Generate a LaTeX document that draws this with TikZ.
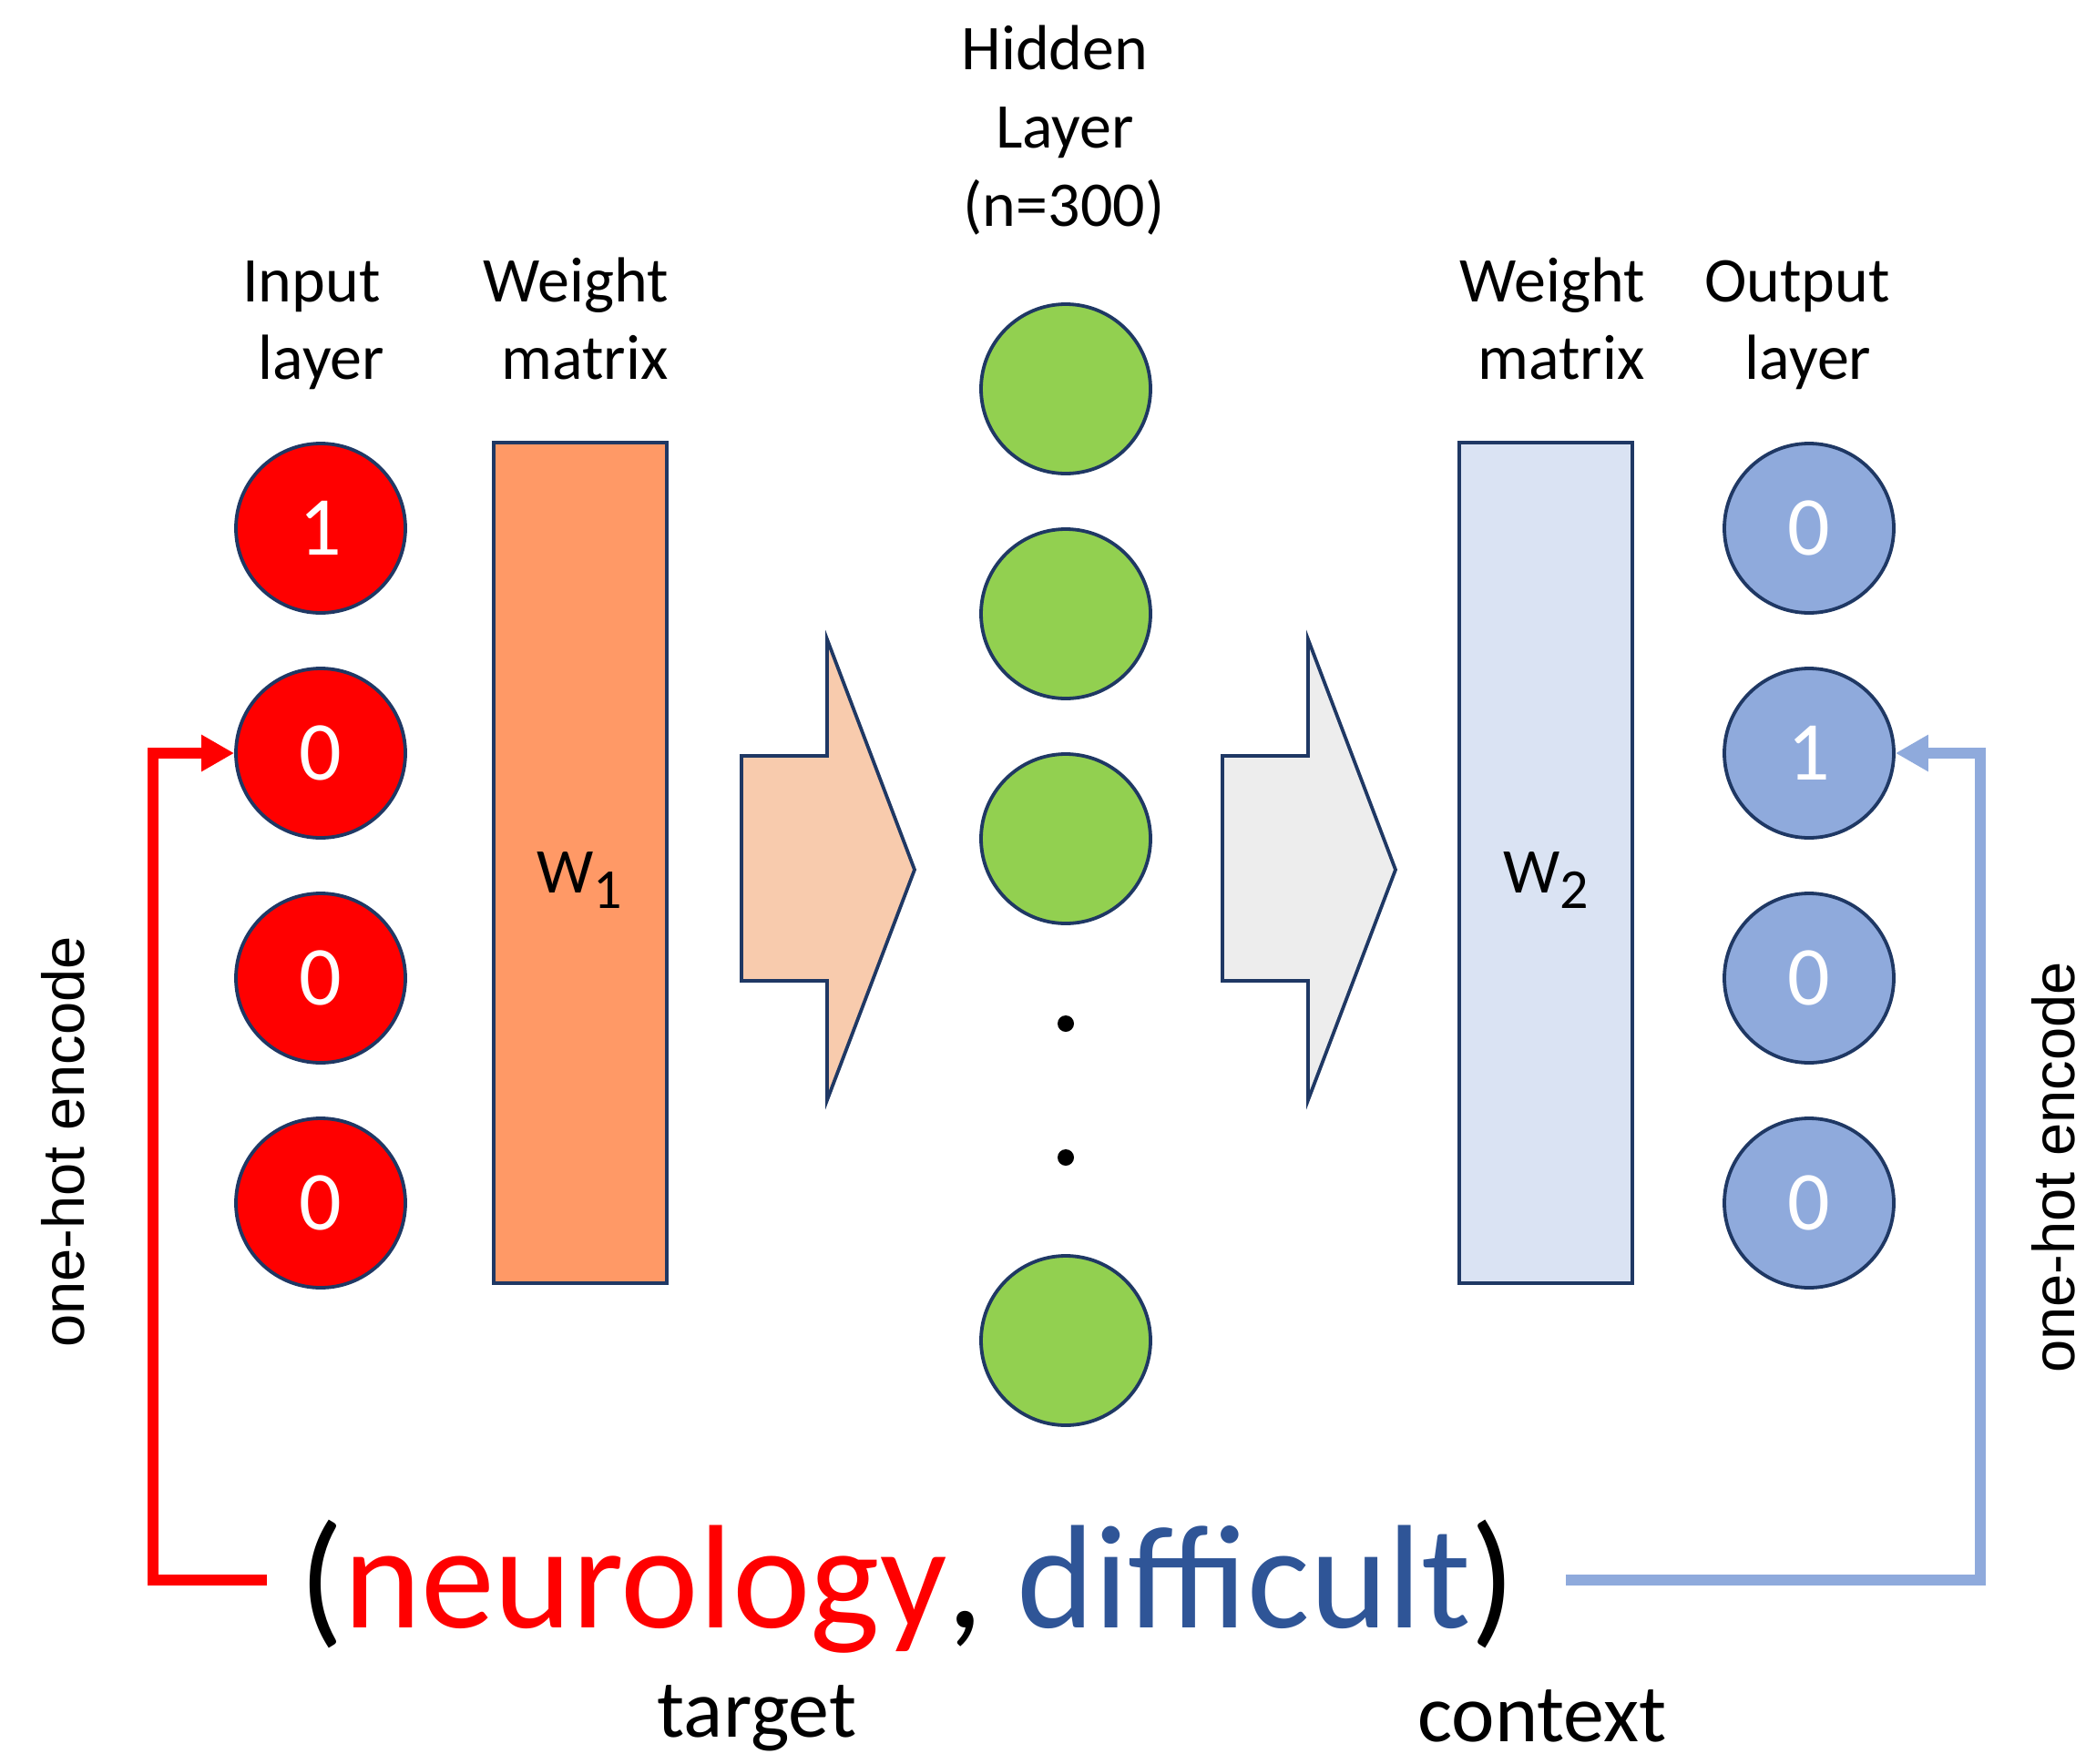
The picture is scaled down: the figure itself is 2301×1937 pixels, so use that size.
\documentclass[tikz,border=0pt]{standalone}
\usepackage{fontspec}
\setmainfont{Carlito}
\newfontfamily\arialfont{Liberation Sans}
\usetikzlibrary{arrows.meta}
\definecolor{outl}{HTML}{1F3864}
\definecolor{inred}{HTML}{FF0000}
\definecolor{wone}{HTML}{FF9966}
\definecolor{arrone}{HTML}{F8CBAD}
\definecolor{arrtwo}{HTML}{EDEDED}
\definecolor{wtwo}{HTML}{DAE3F3}
\definecolor{outblue}{HTML}{8FAADC}
\definecolor{hidgreen}{HTML}{92D050}
\definecolor{dblue}{HTML}{2F5597}
\begin{document}
\begin{tikzpicture}[x=1pt,y=1pt,
  neuron/.style={circle, draw=outl, line width=3.8pt, minimum size=186pt, inner sep=0pt,
     text=white, font=\fontsize{92}{92}\selectfont},
  inneuron/.style={neuron, fill=inred},
  outneuron/.style={neuron, fill=outblue},
  hidneuron/.style={neuron, fill=hidgreen},
  matbox/.style={rectangle, draw=outl, line width=3.8pt, minimum width=190pt, minimum height=923pt, inner sep=0pt},
  blockarrow/.style={draw=outl, line width=3.8pt, line join=miter},
  lbl/.style={anchor=base, inner sep=0pt, font=\fontsize{70}{85}\selectfont},
  wlbl/.style={anchor=base, inner sep=0pt, font=\fontsize{70}{70}\selectfont},
  enc/.style={anchor=base, rotate=90, inner sep=0pt, font=\arialfont\fontsize{65}{65}\selectfont},
  small/.style={anchor=base, inner sep=0pt, font=\fontsize{90}{90}\selectfont},
  conn/.style={line width=12pt, line join=miter, -{Triangle[length=36pt,width=38pt]}},
]
\useasboundingbox (0,0) rectangle (2301,-1937);

% column labels
\node[lbl] (t1a) at (342,-331) {Input};
\node[lbl] (t1b) at (353,-416) {layer};
\node[lbl] (t2a) at (632,-331) {Weight};
\node[lbl] (t2b) at (642,-416) {matrix};
\node[lbl] (t3a) at (1158,-77) {Hidden};
\node[lbl] (t3b) at (1169,-163) {Layer};
\node[lbl] (t3c) at (1168,-248) {(n=300)};
\node[lbl] (t4a) at (1704,-331) {Weight};
\node[lbl] (t4b) at (1714,-416) {matrix};
\node[lbl] (t5a) at (1973,-331) {Output};
\node[lbl] (t5b) at (1985,-416) {layer};

% input layer
\node[inneuron] (in1) at (352,-580) {1};
\node[inneuron] (in2) at (352,-827) {0};
\node[inneuron] (in3) at (352,-1074) {0};
\node[inneuron] (in4) at (352,-1321) {0};

% weight matrices
\node[matbox, fill=wone] (w1) at (637,-947.5) {};
\node[wlbl] (w1l) at (636,-980) {W\raisebox{-17pt}{\fontsize{62}{62}\selectfont 1}};
\node[matbox, fill=wtwo] (w2) at (1697,-947.5) {};
\node[wlbl] (w2l) at (1697,-980) {W\raisebox{-17pt}{\fontsize{62}{62}\selectfont 2}};

% block arrows
\draw[blockarrow, fill=arrone] (814,-830) -- (908,-830) -- (908,-702) -- (1004,-955)
  -- (908,-1208) -- (908,-1077) -- (814,-1077) -- cycle;
\draw[blockarrow, fill=arrtwo] (1342,-830) -- (1436,-830) -- (1436,-702) -- (1532,-955)
  -- (1436,-1208) -- (1436,-1077) -- (1342,-1077) -- cycle;

% hidden layer
\node[hidneuron] (h1) at (1170,-427) {};
\node[hidneuron] (h2) at (1170,-674) {};
\node[hidneuron] (h3) at (1170,-921) {};
\node[hidneuron] (h4) at (1170,-1472) {};
\fill (1170,-1124) circle (9pt);
\fill (1170,-1271) circle (9pt);

% output layer
\node[outneuron] (out1) at (1986,-580) {0};
\node[outneuron] (out2) at (1986,-827) {1};
\node[outneuron] (out3) at (1986,-1074) {0};
\node[outneuron] (out4) at (1986,-1321) {0};

% side labels
\node[enc] (encl) at (92,-1254) {one-hot encode};
\node[enc] (encr) at (2277,-1282) {one-hot encode};

% pair text
\node[anchor=base, inner sep=0pt, font=\fontsize{162}{162}\selectfont] (pair) at (996,-1787)
  {(\textcolor{inred}{neurology}, \textcolor{dblue}{difficult})};
\node[small] (tgt) at (831,-1907) {target};
\node[small] (ctx) at (1693,-1912) {context};

% connectors
\coordinate (rstart) at (293,-1735);
\coordinate (bstart) at (1719,-1735);
\draw[conn, inred] (rstart) -- ++(-125,0) |- (in2.west);
\draw[conn, outblue] (bstart) -- ++(455,0) |- (out2.east);
\end{tikzpicture}
\end{document}
